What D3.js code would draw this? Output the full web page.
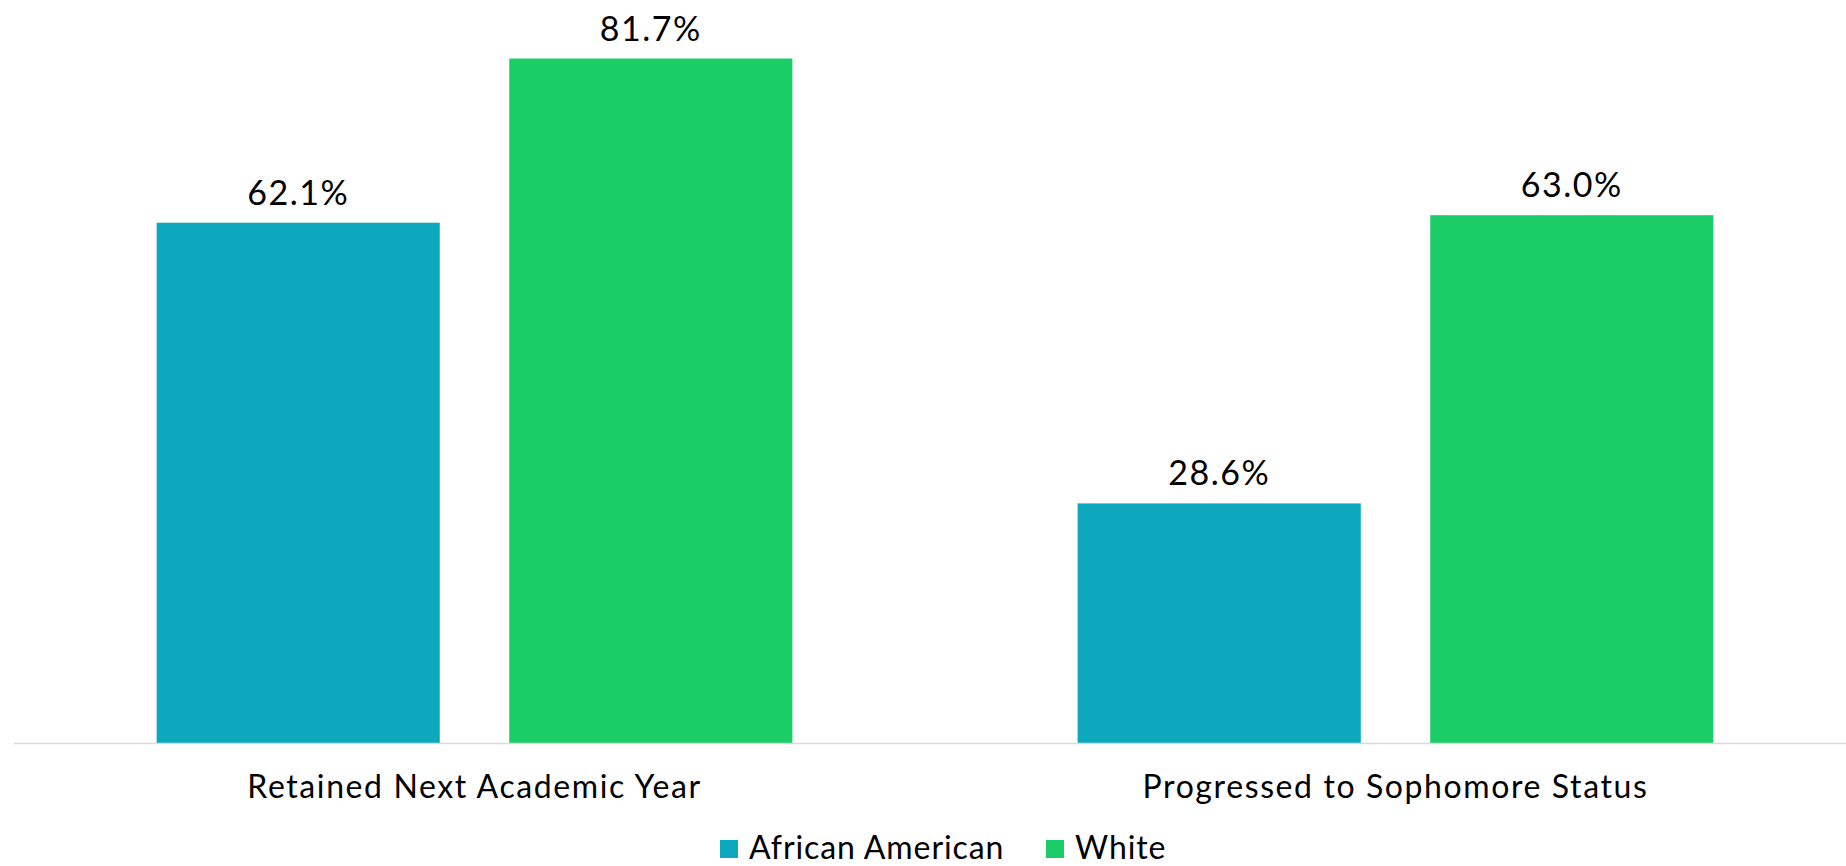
<!DOCTYPE html>
<html>
<head>
<meta charset="utf-8">
<script src="https://cdn.jsdelivr.net/npm/d3@7"></script>
<style>
  body { margin: 0; background: #fff; }
  svg { display: block; font-family: "Lato", "Noto Sans", sans-serif; }
</style>
</head>
<body>
<script>
const categories = ["Retained Next Academic Year", "Progressed to Sophomore Status"];
const series = ["African American", "White"];
const africanAmerican = [62.1, 28.6];
const white = [81.7, 63.0];
const colors = ["#0DA8BE", "#1BCD66"];

const w = 1846, h = 866;
const baseY = 743;

const data = categories.map((c, i) => ({cat: c, vals: [africanAmerican[i], white[i]]}));

const svg = d3.select("body").append("svg")
  .attr("width", w)
  .attr("height", h);

const x0 = d3.scaleBand().domain(categories).range([14, 1856]).padding(0);
const x1 = d3.scaleBand().domain(series).range([0, x0.bandwidth()])
  .paddingInner(0.197).paddingOuter(0.4045);
const y = d3.scaleLinear().domain([0, 90]).range([baseY, -11]);

const color = d3.scaleOrdinal().domain(series).range(colors);

const groups = svg.selectAll("g.grp")
  .data(data)
  .enter().append("g")
  .attr("class", "grp")
  .attr("transform", d => "translate(" + x0(d.cat) + ",0)");

groups.selectAll("rect")
  .data(d => d.vals.map((v, i) => ({key: series[i], v: v})))
  .enter().append("rect")
  .attr("x", d => x1(d.key))
  .attr("y", d => y(d.v))
  .attr("width", x1.bandwidth())
  .attr("height", d => y(0) - y(d.v))
  .attr("fill", d => color(d.key));

groups.selectAll("text.val")
  .data(d => d.vals.map((v, i) => ({key: series[i], v: v})))
  .enter().append("text")
  .attr("class", "val")
  .attr("x", d => x1(d.key) + x1.bandwidth() / 2)
  .attr("y", d => y(d.v) - 18)
  .attr("text-anchor", "middle")
  .style("font-size", "34px")
  .style("letter-spacing", "1.5px")
  .style("fill", "#000")
  .text(d => d.v.toFixed(1) + "%");

// x axis line + category labels
svg.append("line")
  .attr("x1", 14).attr("x2", w)
  .attr("y1", baseY + 0.5).attr("y2", baseY + 0.5)
  .attr("stroke", "#d9d9d9")
  .attr("stroke-width", 1.5);

svg.selectAll("text.cat")
  .data(categories)
  .enter().append("text")
  .attr("class", "cat")
  .attr("x", d => x0(d) + x0.bandwidth() / 2)
  .attr("y", 798)
  .attr("text-anchor", "middle")
  .style("font-size", "32px")
  .style("letter-spacing", "1.6px")
  .style("fill", "#000")
  .text(d => d);

// legend
const legendX = [720, 1046];
const legend = svg.selectAll("g.legend")
  .data(series)
  .enter().append("g")
  .attr("class", "legend")
  .attr("transform", (d, i) => "translate(" + legendX[i] + ",840)");

legend.append("rect")
  .attr("width", 18).attr("height", 18)
  .attr("fill", d => color(d));

legend.append("text")
  .attr("x", 29).attr("y", 19)
  .style("font-size", "32px")
  .style("letter-spacing", "0.9px")
  .style("fill", "#000")
  .text(d => d);
</script>
</body>
</html>
